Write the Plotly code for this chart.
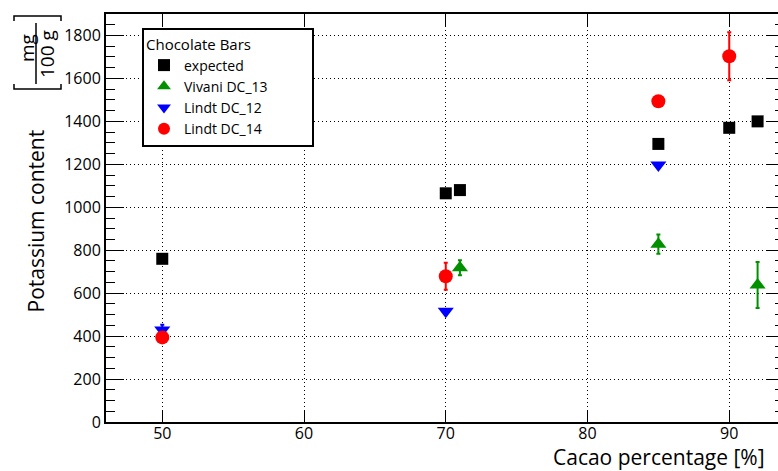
import plotly.graph_objects as go

# Potassium content of dark chocolate bars vs. cacao percentage
exp_x = [50, 70, 71, 85, 90, 92]
exp_y = [760, 1065, 1080, 1295, 1370, 1400]

viv_x = [71, 85, 92]
viv_y = [718, 828, 638]
viv_err = [35, 45, 107]

l12_x = [50, 70, 85]
l12_y = [428, 516, 1197]
l12_err = [25, 6, 6]

l14_x = [50, 70, 85, 90]
l14_y = [394, 679, 1494, 1703]
l14_err = [8, 63, 6, 112]

FONT = "Open Sans"
W, H = 778, 471
L, R, T, B = 106, 778, 14, 422
X_RANGE = [46.03, 93.44]
Y_RANGE = [0, 1900]


def px(x):
    return (x - L) / (R - L)


def py(y):
    return (B - y) / (B - T)


fig = go.Figure()

fig.add_trace(go.Scatter(
    x=exp_x, y=exp_y, mode="markers", name="expected",
    marker=dict(symbol="square", size=12, color="black"),
))
fig.add_trace(go.Scatter(
    x=viv_x, y=viv_y, mode="markers", name="Vivani DC_13",
    marker=dict(symbol="triangle-up", size=14, color="#009000"),
    error_y=dict(type="data", array=viv_err, color="#009000", thickness=2, width=2),
))
fig.add_trace(go.Scatter(
    x=l12_x, y=l12_y, mode="markers", name="Lindt DC_12",
    marker=dict(symbol="triangle-down", size=14, color="#0000ff"),
    error_y=dict(type="data", array=l12_err, color="#0000ff", thickness=2, width=2),
))
fig.add_trace(go.Scatter(
    x=l14_x, y=l14_y, mode="markers", name="Lindt DC_14",
    marker=dict(symbol="circle", size=14, color="#ff0000"),
    error_y=dict(type="data", array=l14_err, color="#ff0000", thickness=2, width=2),
))

# invisible trace to carry the right-hand tick marks
fig.add_trace(go.Scatter(x=[X_RANGE[0]], y=[0], yaxis="y2", mode="markers",
                         marker=dict(opacity=0), showlegend=False, hoverinfo="skip"))

# trailing no-break spaces give the legend box its wider frame
legend_title = "Chocolate Bars" + "\u00a0" * 15

fig.update_layout(
    width=W, height=H,
    margin=dict(l=L, r=W - R, t=T, b=H - B),
    paper_bgcolor="white", plot_bgcolor="white",
    font=dict(family=FONT, color="black", size=16),
    showlegend=True,
    legend=dict(
        x=px(142), y=py(28), xanchor="left", yanchor="top",
        bgcolor="white", bordercolor="black", borderwidth=2,
        font=dict(family=FONT, size=14, color="black"),
        title=dict(text=legend_title, font=dict(family=FONT, size=15)),
        tracegroupgap=0, itemsizing="constant",
    ),
    xaxis=dict(
        range=X_RANGE, dtick=10, tick0=50,
        showline=True, linecolor="black", linewidth=2, mirror="ticks",
        ticks="inside", ticklen=12, tickwidth=1.2, tickcolor="black",
        showgrid=True, gridcolor="black", gridwidth=1, griddash="1px,3px",
        zeroline=False, tickfont=dict(size=16), ticklabelstandoff=-4,
    ),
    yaxis=dict(
        range=Y_RANGE, dtick=200, tick0=0,
        showline=True, linecolor="black", linewidth=2, mirror=False,
        ticks="inside", ticklen=18, tickwidth=1.2, tickcolor="black",
        minor=dict(dtick=50, ticks="inside", ticklen=9, tickcolor="black", tickwidth=1.2),
        showgrid=True, gridcolor="black", gridwidth=1, griddash="1px,3px",
        zeroline=False, tickfont=dict(size=16),
    ),
    yaxis2=dict(
        range=Y_RANGE, dtick=200, tick0=0, overlaying="y", side="right",
        showline=False, showgrid=False, zeroline=False, showticklabels=False,
        ticks="inside", ticklen=12, tickwidth=1.2, tickcolor="black",
        minor=dict(dtick=50, ticks="inside", ticklen=3, tickcolor="black", tickwidth=1.2),
    ),
)

annotations = [
    dict(text="Potassium content", x=px(35), y=py(128), xanchor="center", yanchor="top",
         textangle=-90, font=dict(size=21)),
    dict(text="mg", x=px(27), y=py(48), xanchor="center", yanchor="middle",
         textangle=-90, font=dict(size=19)),
    dict(text="100 g", x=px(47), y=py(54), xanchor="center", yanchor="middle",
         textangle=-90, font=dict(size=19)),
    dict(text="Cacao percentage [%]", x=px(767), y=py(457.5), xanchor="right", yanchor="middle",
         font=dict(size=21)),
]
for a in annotations:
    a.update(xref="paper", yref="paper", showarrow=False)
fig.update_layout(annotations=annotations)

line = dict(color="black", width=1.5)
shapes = [
    # fraction bar of the unit
    dict(type="line", x0=px(36), x1=px(36), y0=py(23), y1=py(84), line=line),
    # brackets around the unit
    dict(type="path", path=f"M {px(14)},{py(21)} L {px(14)},{py(16)} L {px(61)},{py(16)} L {px(61)},{py(21)}", line=line),
    dict(type="path", path=f"M {px(14)},{py(84)} L {px(14)},{py(89)} L {px(61)},{py(89)} L {px(61)},{py(84)}", line=line),
]
for s in shapes:
    s.update(xref="paper", yref="paper")
fig.update_layout(shapes=shapes)

fig.write_html("out.html")
